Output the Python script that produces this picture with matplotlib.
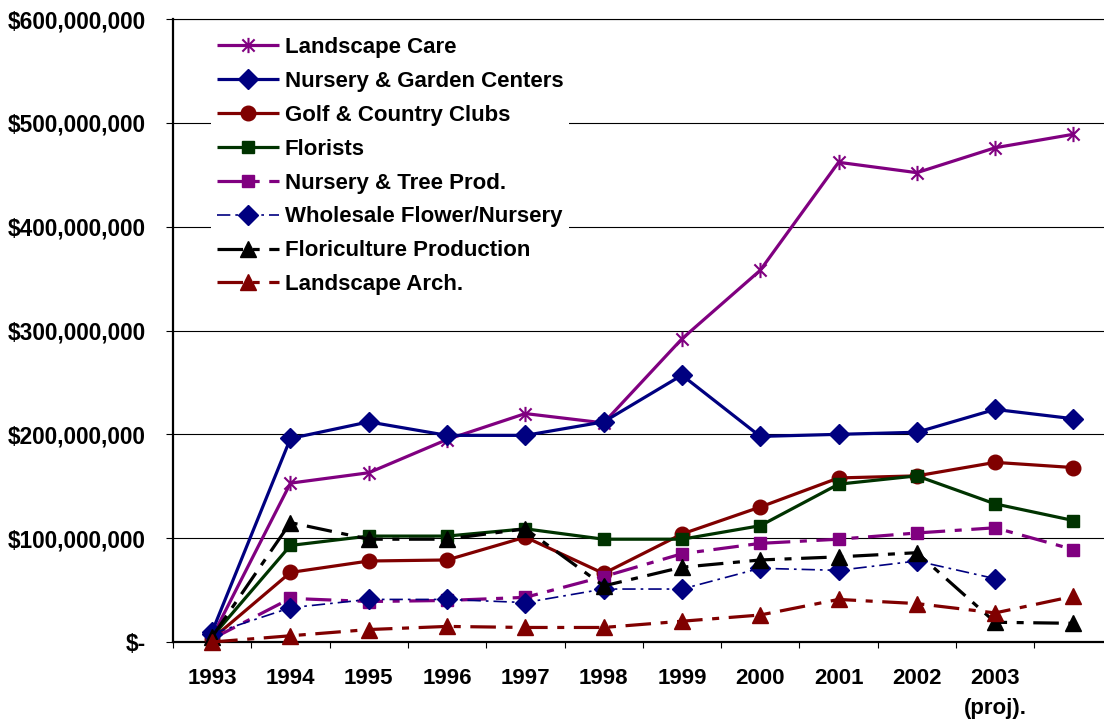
import numpy as np
import matplotlib
matplotlib.use("Agg")
import matplotlib.pyplot as plt
from matplotlib.path import Path

# ---------------- data (values in $ millions) ----------------
categories = ['1993', '1994', '1995', '1996', '1997', '1998', '1999',
              '2000', '2001', '2002', '2003\n(proj).', '']
landscape_care = [5, 153, 163, 195, 220, 211, 292, 358, 462, 452, 476, 489]
nursery_garden = [10, 196, 212, 199, 199, 212, 257, 198, 200, 202, 224, 215]
golf_country = [3, 67, 78, 79, 101, 66, 104, 130, 158, 160, 173, 168]
florists = [5, 93, 102, 102, 109, 99, 99, 112, 152, 160, 133, 117]
nursery_tree = [3, 42, 39, 40, 43, 63, 85, 95, 99, 105, 110, 89]
wholesale = [8, 33, 41, 41, 38, 51, 51, 71, 69, 78, 61, np.nan]
floriculture = [5, 115, 99, 99, 109, 54, 72, 79, 82, 86, 19, 18]
landscape_arch = [0, 6, 12, 15, 14, 14, 20, 26, 41, 37, 28, 44]
y_ticks = [0, 100, 200, 300, 400, 500, 600]
y_tick_labels = ['$-', '$100,000,000', '$200,000,000', '$300,000,000',
                 '$400,000,000', '$500,000,000', '$600,000,000']

plt.rcParams['font.family'] = ['Liberation Sans', 'DejaVu Sans']
plt.rcParams['font.weight'] = 'bold'

W, H = 1104, 719
fig = plt.figure(figsize=(W / 100, H / 100), dpi=100)
left, right, top, bottom = 173, 1104, 19, 642
ax = fig.add_axes([left / W, (H - bottom) / H, (right - left) / W, (bottom - top) / H])

cat_w = 78.3
x = np.arange(len(categories))
ax.set_xlim(-0.5, -0.5 + (right - left) / cat_w)
ax.set_ylim(0, 600e6)

star = Path([(-1, -1), (1, 1), (-1, 1), (1, -1), (0, -1.25), (0, 1.25)],
            [Path.MOVETO, Path.LINETO] * 3)

purple = '#800080'
navy = '#000080'
dred = '#800000'
dgreen = '#003300'
lw = 2.3
ldd = (0, (8, 3, 2.2, 3))

series = [
    ('Landscape Care', landscape_care, dict(color=purple, lw=lw, ls='-', marker=star, ms=11, mew=1.5)),
    ('Nursery & Garden Centers', nursery_garden, dict(color=navy, lw=lw, ls='-', marker='D', ms=10)),
    ('Golf & Country Clubs', golf_country, dict(color=dred, lw=lw, ls='-', marker='o', ms=10.5)),
    ('Florists', florists, dict(color=dgreen, lw=lw, ls='-', marker='s', ms=8.5)),
    ('Nursery & Tree Prod.', nursery_tree, dict(color=purple, lw=lw, ls=ldd, marker='s', ms=8.5)),
    ('Wholesale Flower/Nursery', wholesale, dict(color=navy, lw=1.2, ls=(0, (8, 3, 1.6, 3)), marker='D', ms=10)),
    ('Floriculture Production', floriculture, dict(color='black', lw=lw, ls=ldd, marker='^', ms=11)),
    ('Landscape Arch.', landscape_arch, dict(color=dred, lw=lw, ls=ldd, marker='^', ms=11)),
]

for i, (name, vals, st) in enumerate(series):
    ax.plot(x, np.array(vals, dtype=float) * 1e6, label=name,
            mfc=st['color'], mec=st['color'], clip_on=False, zorder=3 + i,
            dash_capstyle='butt', solid_capstyle='butt', **st)

# y axis
ax.set_yticks([v * 1e6 for v in y_ticks])
ax.set_yticklabels(y_tick_labels)
ax.tick_params(axis='y', length=5, width=0.8, pad=14.4, labelsize=16.3, direction='out')
ax.yaxis.grid(True, color='black', lw=0.8, zorder=0)
ax.set_axisbelow(True)

# x axis: tick marks at category boundaries, labels at centers
ax.set_xticks(np.arange(-0.5, len(categories) - 0.5, 1))
ax.set_xticklabels([])
ax.tick_params(axis='x', which='major', length=4.5, width=0.8, direction='out')
ax.set_xticks(x, minor=True)
ax.set_xticklabels(categories, minor=True)
ax.tick_params(axis='x', which='minor', length=0, pad=18.5, labelsize=16)
for t in ax.get_xticklabels(minor=True):
    t.set_linespacing(1.6)

for s in ['right']:
    ax.spines[s].set_visible(False)
ax.spines['top'].set_linewidth(0.8)
ax.spines['left'].set_linewidth(1.6)
ax.spines['bottom'].set_linewidth(1.6)

leg = ax.legend(loc='upper left', bbox_to_anchor=(211 / W, 1 - 31 / H),
                bbox_transform=fig.transFigure, borderaxespad=0, borderpad=0.27,
                prop={'size': 16, 'weight': 'bold'}, handlelength=2.8,
                handletextpad=0.25, labelspacing=0.58, frameon=True,
                fancybox=False, framealpha=1, facecolor='white', edgecolor='none',
                numpoints=1)
leg.set_zorder(20)

fig.savefig('out.png', dpi=100)
